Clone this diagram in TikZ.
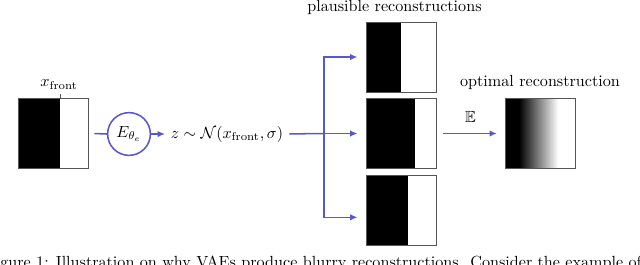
\documentclass[tikz,border=0pt]{standalone}
\usepackage{amsmath,amssymb}
\usetikzlibrary{arrows.meta,calc}
\definecolor{arrowblue}{RGB}{88,88,206}
\definecolor{frame}{RGB}{85,85,85}
\begin{document}
\begin{tikzpicture}[x=0.62pt,y=-0.62pt,
  conn/.style={draw=arrowblue,line width=0.95pt},
  arr/.style={conn,-{Latex[length=4.5pt,width=4pt]}},
  sq/.style={draw=frame,line width=0.6pt,inner sep=0pt,minimum size=43.4pt,
    path picture={\fill[black] (path picture bounding box.south west) rectangle
      ($(path picture bounding box.south west)!#1!(path picture bounding box.south east)+(0,43.4pt)$);}},
  blurry/.style={draw=frame,line width=0.6pt,inner sep=0pt,minimum size=43.4pt,
    path picture={
      \fill[black] (path picture bounding box.south west) rectangle
        ($(path picture bounding box.south west)!0.2!(path picture bounding box.south east)+(0,43.4pt)$);
      \shade[left color=black,right color=white]
        ($(path picture bounding box.south west)!0.2!(path picture bounding box.south east)$) rectangle
        ($(path picture bounding box.south west)!0.76!(path picture bounding box.south east)+(0,43.4pt)$);}},
  enc/.style={circle,draw=arrowblue,line width=0.95pt,minimum size=26.5pt,inner sep=0pt},
  lbl/.style={inner sep=0pt,anchor=base}]
\useasboundingbox (0,0) rectangle (640,264);
% input
\node[sq=0.6] (xf) at (53,133.3) {};
\coordinate (tick) at (60,94);
\draw[frame,line width=0.6pt] (tick) -- (tick |- xf.north);
\node[lbl] (xlabel) at (59,86.7) {$x_{\mathrm{front}}$};
% encoder
\node[enc] (enc) at (129,134) {$E_{\theta_e}$};
\node[inner sep=0pt] (z) at (227,134) {$z\sim\mathcal{N}(x_{\mathrm{front}},\sigma)$};
\draw[conn,shorten <=3.7pt] (xf.east) -- (enc.west);
\draw[arr,shorten >=3.5pt] (enc.east) -- (z.west);
% plausible reconstructions
\node[sq=0.5] (r1) at (401,57) {};
\node[sq=0.7] (r2) at (401,133.5) {};
\node[sq=0.6] (r3) at (401,210.2) {};
\node[lbl] (plaus) at (394.5,11) {plausible reconstructions};
\coordinate (br) at (324,133.5);
\coordinate (b3) at (324,217.3);
\draw[conn,shorten <=3.7pt] (z.east) -- (br);
\draw[arr,shorten >=5pt] (br) |- (r1.west);
\draw[arr,shorten >=5pt] (br) -- (r2.west);
\draw[arr,shorten >=5pt] (br) -- (b3) -- (b3 -| r3.west);
% optimal reconstruction
\node[blurry] (opt) at (540,133.5) {};
\node[lbl] (optl) at (540,86.7) {optimal reconstruction};
\draw[arr,shorten <=4.3pt,shorten >=4.8pt] (r2.east) -- node[above=3pt] (ex) {$\mathbb{E}$} (opt.west);
% cropped caption
\begin{scope}
\clip (0,0) rectangle (640,264);
\node[lbl,anchor=base west] (cap) at (-15,267) {Figure 1: Illustration on why VAEs produce blurry reconstructions. Consider the example of a};
\end{scope}
\end{tikzpicture}
\end{document}
